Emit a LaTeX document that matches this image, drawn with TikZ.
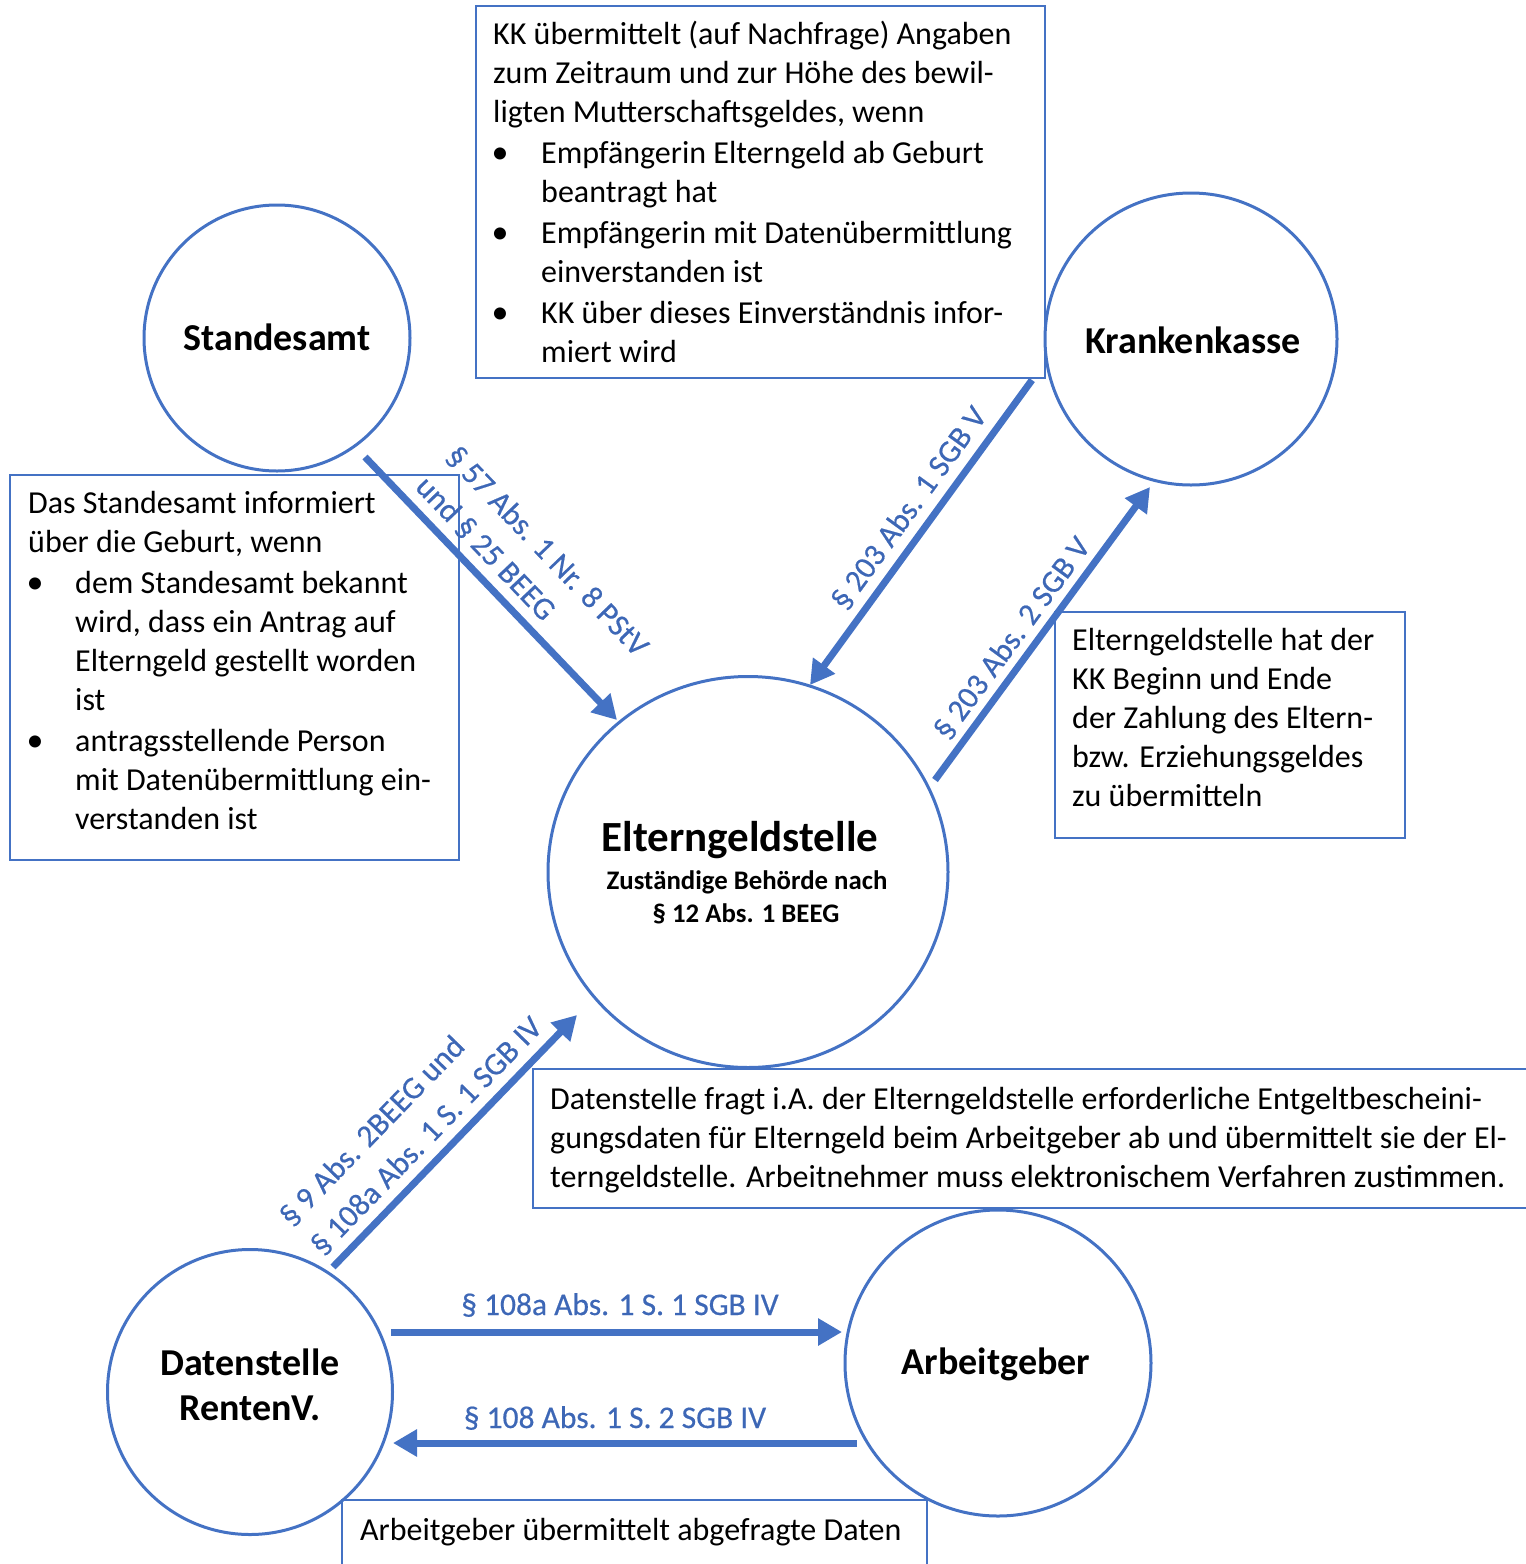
\documentclass[tikz,border=0pt]{standalone}
\usepackage{fontspec}
\setmainfont{Carlito}
\newfontfamily\labfont{Carlito}[FakeBold=0.5]
\usetikzlibrary{shapes.geometric,arrows.meta}
\definecolor{mblue}{HTML}{4472C4}
\definecolor{lblue}{HTML}{3D67B6}
\tikzset{
  circ/.style={circle, draw=mblue, line width=3pt, inner sep=0pt},
  box/.style={draw=mblue, line width=1.2pt},
  btext/.style={anchor=base west, inner sep=0pt, font=\fontsize{32}{39}\selectfont},
  bul/.style={anchor=base, inner sep=0pt, font=\fontsize{34}{39}\selectfont},
  ctitle/.style={anchor=base, inner sep=0pt, font=\bfseries\fontsize{38}{44}\selectfont},
  flow/.style={draw=mblue, line width=7pt, -{Triangle[length=24pt,width=26pt]}},
  lab/.style={inner sep=0pt, text=lblue, font=\labfont\fontsize{31.5}{38}\selectfont},
}
\begin{document}
\begin{tikzpicture}[x=1pt,y=-1pt]
\useasboundingbox (0,0) rectangle (1526,1564);
\clip (0,0) rectangle (1526,1564);

% text boxes
\draw[box] (476,6) rectangle (1045,378);
\draw[box] (10,475) rectangle (459,860);
\draw[box] (1055,612) rectangle (1405,838);
\draw[box] (533,1069) rectangle (1540,1208);
\draw[box] (342,1500) rectangle (927,1580);

% circles
\node[circ, minimum size=266pt] (stand) at (277,338) {};
\node[circ, minimum size=292pt] (kk) at (1191,339) {};
\node[ellipse, draw=mblue, line width=3pt, minimum width=400pt, minimum height=391pt, inner sep=0pt] (eg) at (748,872) {};
\node[circ, minimum size=285pt] (ds) at (250,1392) {};
\node[circ, minimum size=306pt] (ag) at (998,1363) {};

% circle titles
\node[ctitle] (tstand) at (277,350) {Standesamt};
\node[ctitle] (tkk) at (1193,353) {Krankenkasse};
\node[ctitle] (tag) at (996,1374) {Arbeitgeber};
\node[ctitle] (tds1) at (250,1375) {Datenstelle};
\node[ctitle] (tds2) at (250,1420) {RentenV.};
\node[anchor=base, inner sep=0pt, font=\bfseries\fontsize{43}{50}\selectfont] (teg1) at (740,851) {Elterngeldstelle};
\node[anchor=base, inner sep=0pt, font=\bfseries\fontsize{26.8}{32}\selectfont] (teg2) at (747,889) {Zuständige Behörde nach};
\node[anchor=base, inner sep=0pt, font=\bfseries\fontsize{26.8}{32}\selectfont] (teg3) at (746,922) {§ 12 Abs. 1 BEEG};

% top box text
\node[btext] (k1) at (493,44) {KK übermittelt (auf Nachfrage) Angaben};
\node[btext] (k2) at (493,83) {zum Zeitraum und zur Höhe des bewil-};
\node[btext] (k3) at (493,122) {ligten Mutterschaftsgeldes, wenn};
\node[bul] (kb1) at (500,163) {•};
\node[btext] (k4) at (541,163) {Empfängerin Elterngeld ab Geburt};
\node[btext] (k5) at (541,202) {beantragt hat};
\node[bul] (kb2) at (500,243) {•};
\node[btext] (k6) at (541,243) {Empfängerin mit Datenübermittlung};
\node[btext] (k7) at (541,282) {einverstanden ist};
\node[bul] (kb3) at (500,323) {•};
\node[btext] (k8) at (541,323) {KK über dieses Einverständnis infor-};
\node[btext] (k9) at (541,362) {miert wird};

% left box text
\node[btext] (s1) at (28,513) {Das Standesamt informiert};
\node[btext] (s2) at (28,552) {über die Geburt, wenn};
\node[bul] (sb1) at (35,593) {•};
\node[btext] (s3) at (75,593) {dem Standesamt bekannt};
\node[btext] (s4) at (75,632) {wird, dass ein Antrag auf};
\node[btext] (s5) at (75,671) {Elterngeld gestellt worden};
\node[btext] (s6) at (75,710) {ist};
\node[bul] (sb2) at (35,751) {•};
\node[btext] (s7) at (75,751) {antragsstellende Person};
\node[btext] (s8) at (75,790) {mit Datenübermittlung ein-};
\node[btext] (s9) at (75,829) {verstanden ist};

% right box text
\node[btext] (r1) at (1072,650) {Elterngeldstelle hat der};
\node[btext] (r2) at (1072,689) {KK Beginn und Ende};
\node[btext] (r3) at (1072,728) {der Zahlung des Eltern-};
\node[btext] (r4) at (1072,767) {bzw. Erziehungsgeldes};
\node[btext] (r5) at (1072,806) {zu übermitteln};

% bottom box text
\node[btext] (d1) at (550,1109) {Datenstelle fragt i.A. der Elterngeldstelle erforderliche Entgeltbescheini-};
\node[btext] (d2) at (550,1148) {gungsdaten für Elterngeld beim Arbeitgeber ab und übermittelt sie der El-};
\node[btext] (d3) at (550,1187) {terngeldstelle. Arbeitnehmer muss elektronischem Verfahren zustimmen.};
\node[btext] (a1) at (360,1540) {Arbeitgeber übermittelt abgefragte Daten};

% arrow end points
\coordinate (a1s) at (365,457);
\coordinate (a1e) at (617,720);
\coordinate (a2s) at (1032,380);
\coordinate (a2e) at (810,685);
\coordinate (a3s) at (935,780);
\coordinate (a3e) at (1150,487);
\coordinate (a4s) at (333,1267);
\coordinate (a4e) at (577,1015);
\coordinate (a5s) at (391,1332);
\coordinate (a5e) at (842,1332);
\coordinate (a6s) at (857,1443);
\coordinate (a6e) at (393,1443);

\draw[flow] (a1s) -- (a1e);
\draw[flow] (a2s) -- (a2e);
\draw[flow] (a3s) -- (a3e);
\draw[flow] (a4s) -- (a4e);
\draw[flow] (a5s) -- (a5e);
\draw[flow] (a6s) -- (a6e);

% arrow labels
\node[lab, anchor=base west, rotate=-46.2] (l1a) at (444,458) {§ 57 Abs. 1 Nr. 8 PStV};
\node[lab, anchor=base west, rotate=-46.2] (l1b) at (414,488) {und § 25 BEEG};
\node[lab, anchor=base, rotate=54] (l2) at (917,514) {§ 203 Abs. 1 SGB V};
\node[lab, anchor=base, rotate=53.7] (l3) at (1020,644) {§ 203 Abs. 2 SGB V};
\node[lab, anchor=base west, rotate=45.9] (l4a) at (292,1228) {§ 9 Abs. 2BEEG und};
\node[lab, anchor=base west, rotate=45.9] (l4b) at (323,1257) {§ 108a Abs. 1 S. 1 SGB IV};
\node[lab, anchor=base] (l5) at (620,1315) {§ 108a Abs. 1 S. 1 SGB IV};
\node[lab, anchor=base] (l6) at (615,1428) {§ 108 Abs. 1 S. 2 SGB IV};
\end{tikzpicture}
\end{document}
